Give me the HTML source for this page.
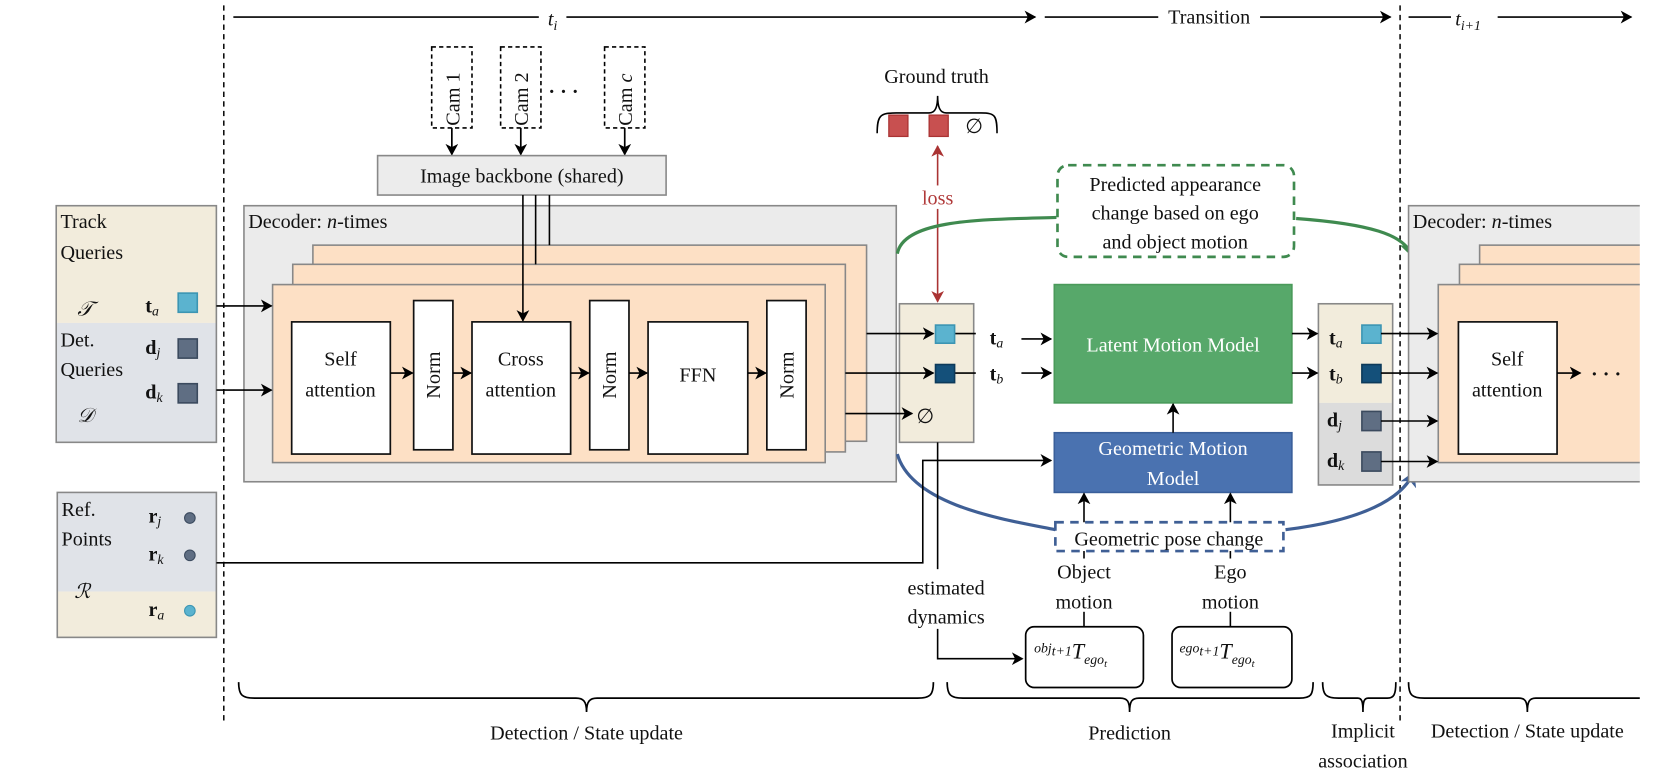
<!DOCTYPE html>
<html><head><meta charset="utf-8"><style>
html,body{margin:0;padding:0;background:#fff;}
svg{display:block;}
text{font-family:"Liberation Serif",serif;font-size:19px;fill:#111;}
.b{font-weight:bold;}
</style></head><body>
<svg width="1661" height="777" viewBox="0 0 1566 729" preserveAspectRatio="none" xmlns="http://www.w3.org/2000/svg">
<defs>
<marker id="a" markerWidth="12" markerHeight="12" refX="10" refY="6" orient="auto" markerUnits="userSpaceOnUse"><path d="M0,0 L11,6 L0,12 L3,6 Z" fill="#000"/></marker>
<marker id="ar" markerWidth="12" markerHeight="12" refX="10" refY="6" orient="auto-start-reverse" markerUnits="userSpaceOnUse"><path d="M0,0 L11,6 L0,12 L3,6 Z" fill="#a33"/></marker>
<marker id="ag" markerWidth="16" markerHeight="16" refX="13" refY="8" orient="auto" markerUnits="userSpaceOnUse"><path d="M0,0 L14,8 L0,16 L4,8 Z" fill="#3f8a4f"/></marker>
<marker id="ab" markerWidth="16" markerHeight="16" refX="13" refY="8" orient="auto" markerUnits="userSpaceOnUse"><path d="M0,0 L14,8 L0,16 L4,8 Z" fill="#3f5f95"/></marker>
</defs>

<!-- timeline -->
<g stroke="#000" stroke-width="1.6" fill="none">
<line x1="220" y1="16" x2="976" y2="16" marker-end="url(#a)"/>
<line x1="985" y1="16" x2="1311" y2="16" marker-end="url(#a)"/>
<line x1="1328" y1="16" x2="1538" y2="16" marker-end="url(#a)"/>
</g>
<rect x="508" y="4" width="26" height="22" fill="#fff"/><text x="521" y="24" text-anchor="middle" font-style="italic">t<tspan font-size="13" dy="4">i</tspan></text>
<rect x="1092" y="4" width="96" height="22" fill="#fff"/><text x="1140" y="22" text-anchor="middle">Transition</text>
<rect x="1368" y="4" width="44" height="24" fill="#fff"/><text x="1372" y="24" font-style="italic">t<tspan font-size="13" dy="4">i+1</tspan></text>

<line x1="211" y1="5" x2="211" y2="680" stroke="#000" stroke-width="1.4" stroke-dasharray="5,4"/>
<line x1="1320" y1="5" x2="1320" y2="680" stroke="#000" stroke-width="1.4" stroke-dasharray="5,4"/>

<!-- cams -->
<g fill="#fff" stroke="#000" stroke-width="1.5" stroke-dasharray="4,3">
<rect x="407" y="44" width="38" height="76"/>
<rect x="472" y="44" width="38" height="76"/>
<rect x="570" y="44" width="38" height="76"/>
</g>
<text transform="translate(433,118) rotate(-90)">Cam  1</text>
<text transform="translate(498,118) rotate(-90)">Cam 2</text>
<text transform="translate(596,118) rotate(-90)">Cam  <tspan font-style="italic">c</tspan></text>
<text x="517" y="92" font-size="26" font-weight="bold">· · ·</text>
<g stroke="#000" stroke-width="1.6">
<line x1="426" y1="120" x2="426" y2="145" marker-end="url(#a)"/>
<line x1="491" y1="120" x2="491" y2="145" marker-end="url(#a)"/>
<line x1="589" y1="120" x2="589" y2="145" marker-end="url(#a)"/>
</g>
<rect x="356" y="146" width="272" height="37" fill="#ececec" stroke="#888" stroke-width="1.5"/>
<text x="492" y="171" text-anchor="middle">Image backbone (shared)</text>

<!-- left queries panel -->
<rect x="53" y="193" width="151" height="110" fill="#f2ecdc"/>
<rect x="53" y="303" width="151" height="112" fill="#e0e3e8"/>
<rect x="53" y="193" width="151" height="222" fill="none" stroke="#888" stroke-width="1.5"/>
<text x="57" y="214">Track</text><text x="57" y="243">Queries</text>
<text x="73" y="296" font-style="italic" font-size="22">𝒯</text>
<text x="137" y="293" class="b">t<tspan font-style="italic" font-weight="normal" font-size="13" dy="3">a</tspan></text>
<rect x="168" y="275" width="18" height="18" fill="#5bb3cf" stroke="#3c95b3" stroke-width="1.5"/>
<text x="57" y="325">Det.</text><text x="57" y="353">Queries</text>
<text x="73" y="396" font-style="italic" font-size="22">𝒟</text>
<text x="137" y="332" class="b">d<tspan font-style="italic" font-weight="normal" font-size="13" dy="3">j</tspan></text>
<rect x="168" y="318" width="18" height="18" fill="#5f6e83" stroke="#3b4a5e" stroke-width="1.5"/>
<text x="137" y="374" class="b">d<tspan font-style="italic" font-weight="normal" font-size="13" dy="3">k</tspan></text>
<rect x="168" y="360" width="18" height="18" fill="#5f6e83" stroke="#3b4a5e" stroke-width="1.5"/>

<!-- ref points -->
<rect x="54" y="462" width="150" height="93" fill="#e0e3e8"/>
<rect x="54" y="555" width="150" height="43" fill="#f2ecdc"/>
<rect x="54" y="462" width="150" height="136" fill="none" stroke="#888" stroke-width="1.5"/>
<text x="58" y="484">Ref.</text><text x="58" y="512">Points</text>
<text x="70" y="561" font-style="italic" font-size="22">ℛ</text>
<text x="140" y="490" class="b">r<tspan font-style="italic" font-weight="normal" font-size="13" dy="3">j</tspan></text>
<circle cx="179" cy="486" r="5" fill="#5f6e83" stroke="#3b4a5e"/>
<text x="140" y="526" class="b">r<tspan font-style="italic" font-weight="normal" font-size="13" dy="3">k</tspan></text>
<circle cx="179" cy="521" r="5" fill="#5f6e83" stroke="#3b4a5e"/>
<text x="140" y="578" class="b">r<tspan font-style="italic" font-weight="normal" font-size="13" dy="3">a</tspan></text>
<circle cx="179" cy="573" r="5" fill="#5bb3cf" stroke="#3c95b3"/>

<!-- decoder -->
<rect x="230" y="193" width="615" height="259" fill="#ebebeb" stroke="#888" stroke-width="1.5"/>
<text x="234" y="214">Decoder: <tspan font-style="italic">n</tspan>-times</text>
<rect x="295" y="230" width="522" height="184" fill="#fde0c5" stroke="#888" stroke-width="1.5"/>
<rect x="276" y="248" width="521" height="176" fill="#fde0c5" stroke="#888" stroke-width="1.5"/>
<rect x="257" y="267" width="521" height="167" fill="#fde0c5" stroke="#888" stroke-width="1.5"/>
<g stroke="#000" stroke-width="1.5">
<line x1="518" y1="183" x2="518" y2="230"/>
<line x1="505" y1="183" x2="505" y2="248"/>
<line x1="493" y1="183" x2="493" y2="301" marker-end="url(#a)"/>
<line x1="204" y1="287" x2="256" y2="287" marker-end="url(#a)"/>
<line x1="204" y1="366" x2="256" y2="366" marker-end="url(#a)"/>
</g>
<g fill="#fff" stroke="#111" stroke-width="1.6">
<rect x="275" y="302" width="93" height="124"/>
<rect x="390" y="282" width="37" height="140"/>
<rect x="445" y="302" width="93" height="124"/>
<rect x="556" y="282" width="37" height="140"/>
<rect x="611" y="302" width="94" height="124"/>
<rect x="723" y="282" width="37" height="140"/>
</g>
<text x="321" y="343" text-anchor="middle">Self</text><text x="321" y="372" text-anchor="middle">attention</text>
<text x="491" y="343" text-anchor="middle">Cross</text><text x="491" y="372" text-anchor="middle">attention</text>
<text x="658" y="358" text-anchor="middle">FFN</text>
<text transform="translate(415,352) rotate(-90)" text-anchor="middle">Norm</text>
<text transform="translate(581,352) rotate(-90)" text-anchor="middle">Norm</text>
<text transform="translate(748,352) rotate(-90)" text-anchor="middle">Norm</text>
<g stroke="#000" stroke-width="1.5">
<line x1="368" y1="350" x2="389" y2="350" marker-end="url(#a)"/>
<line x1="427" y1="350" x2="444" y2="350" marker-end="url(#a)"/>
<line x1="538" y1="350" x2="555" y2="350" marker-end="url(#a)"/>
<line x1="593" y1="350" x2="610" y2="350" marker-end="url(#a)"/>
<line x1="705" y1="350" x2="722" y2="350" marker-end="url(#a)"/>
</g>

<!-- ground truth -->
<text x="883" y="78" text-anchor="middle">Ground truth</text>
<path d="M827,125 C827,108 830,106 845,106 L876,106 C882,106 884,100 884,90 C884,100 886,106 892,106 L925,106 C938,106 940,108 940,125" fill="none" stroke="#000" stroke-width="1.5"/>
<rect x="838" y="108" width="18" height="20" fill="#c85050" stroke="#a33" stroke-width="1.2"/>
<rect x="876" y="108" width="18" height="20" fill="#c85050" stroke="#a33" stroke-width="1.2"/>
<text x="910" y="125">∅</text>
<line x1="884" y1="137" x2="884" y2="283" stroke="#a33" stroke-width="1.5" marker-start="url(#ar)" marker-end="url(#ar)"/>
<rect x="864" y="174" width="40" height="22" fill="#fff"/>
<text x="884" y="192" text-anchor="middle" style="fill:#b03a3a">loss</text>

<!-- buffer -->
<rect x="848" y="285" width="70" height="130" fill="#f2ecdc" stroke="#888" stroke-width="1.5"/>
<g stroke="#000" stroke-width="1.5">
<line x1="817" y1="313" x2="880" y2="313" marker-end="url(#a)"/>
<line x1="797" y1="350" x2="880" y2="350" marker-end="url(#a)"/>
<line x1="797" y1="388" x2="860" y2="388" marker-end="url(#a)"/>
<line x1="900" y1="313" x2="920" y2="313"/>
<line x1="900" y1="350" x2="920" y2="350"/>
<line x1="963" y1="318" x2="991" y2="318" marker-end="url(#a)"/>
<line x1="963" y1="350" x2="991" y2="350" marker-end="url(#a)"/>
</g>
<rect x="882" y="305" width="18" height="17" fill="#5bb3cf" stroke="#3c95b3" stroke-width="1.5"/>
<rect x="882" y="342" width="18" height="17" fill="#14507a" stroke="#0d3a5a" stroke-width="1.5"/>
<text x="864" y="397">∅</text>
<text x="933" y="323" class="b">t<tspan font-style="italic" font-weight="normal" font-size="13" dy="3">a</tspan></text>
<text x="933" y="357" class="b">t<tspan font-style="italic" font-weight="normal" font-size="13" dy="3">b</tspan></text>

<!-- green appearance -->
<path d="M846,238 C852,205 930,206 996,204" fill="none" stroke="#3f8a4f" stroke-width="3"/>
<path d="M1222,205 C1290,210 1325,220 1331,240" fill="none" stroke="#3f8a4f" stroke-width="3" marker-end="url(#ag)"/>
<rect x="997" y="155" width="223" height="86" rx="10" fill="#fff" stroke="#3f8a4f" stroke-width="2.5" stroke-dasharray="8,6"/>
<text x="1108" y="179" text-anchor="middle">Predicted appearance</text>
<text x="1108" y="206" text-anchor="middle">change based on ego</text>
<text x="1108" y="233" text-anchor="middle">and object motion</text>

<!-- motion models -->
<rect x="994" y="267" width="224" height="111" fill="#57a86a" stroke="#4a9a5a" stroke-width="1.5"/>
<text x="1106" y="330" text-anchor="middle" style="fill:#fff">Latent Motion Model</text>
<rect x="994" y="406" width="224" height="56" fill="#4a72b0" stroke="#3a5f9a" stroke-width="1.5"/>
<text x="1106" y="427" text-anchor="middle" style="fill:#fff">Geometric Motion</text>
<text x="1106" y="455" text-anchor="middle" style="fill:#fff">Model</text>
<line x1="1106" y1="406" x2="1106" y2="379" stroke="#000" stroke-width="1.5" marker-end="url(#a)"/>

<!-- blue pose curve -->
<path d="M846,426 C860,475 950,488 995,497" fill="none" stroke="#3f5f95" stroke-width="3"/>
<path d="M1212,497 C1285,488 1322,468 1333,443" fill="none" stroke="#3f5f95" stroke-width="3" marker-end="url(#ab)"/>
<rect x="995" y="490" width="215" height="27" fill="#fff" stroke="#3f5f95" stroke-width="2.5" stroke-dasharray="8,6"/>
<text x="1102" y="512" text-anchor="middle">Geometric pose change</text>
<g stroke="#000" stroke-width="1.5">
<line x1="1022" y1="490" x2="1022" y2="463" marker-end="url(#a)"/>
<line x1="1160" y1="490" x2="1160" y2="463" marker-end="url(#a)"/>
<line x1="1022" y1="517" x2="1022" y2="524"/>
<line x1="1160" y1="517" x2="1160" y2="524"/>
<line x1="1022" y1="574" x2="1022" y2="588"/>
<line x1="1160" y1="574" x2="1160" y2="588"/>
</g>
<text x="1022" y="543" text-anchor="middle">Object</text><text x="1022" y="571" text-anchor="middle">motion</text>
<text x="1160" y="543" text-anchor="middle">Ego</text><text x="1160" y="571" text-anchor="middle">motion</text>
<rect x="967" y="588" width="111" height="57" rx="8" fill="#fff" stroke="#000" stroke-width="1.6"/>
<rect x="1105" y="588" width="113" height="57" rx="8" fill="#fff" stroke="#000" stroke-width="1.6"/>
<text x="975" y="618" font-style="italic"><tspan font-size="13" dy="-6">obj</tspan><tspan font-size="13" dy="3">t+1</tspan><tspan font-size="21" dy="3">T</tspan><tspan font-size="13" dy="5">ego</tspan><tspan font-size="10" dy="3">t</tspan></text>
<text x="1112" y="618" font-style="italic"><tspan font-size="13" dy="-6">ego</tspan><tspan font-size="13" dy="3">t+1</tspan><tspan font-size="21" dy="3">T</tspan><tspan font-size="13" dy="5">ego</tspan><tspan font-size="10" dy="3">t</tspan></text>

<!-- connectors -->
<g stroke="#000" stroke-width="1.5" fill="none">
<polyline points="884,415 884,534"/>
<polyline points="884,590 884,618 964,618" marker-end="url(#a)"/>
<polyline points="204,528 870,528 870,432 991,432" marker-end="url(#a)"/>
</g>
<text x="892" y="558" text-anchor="middle">estimated</text>
<text x="892" y="585" text-anchor="middle">dynamics</text>

<!-- right buffer -->
<rect x="1243" y="285" width="70" height="93" fill="#f2ecdc"/>
<rect x="1243" y="378" width="70" height="77" fill="#dcdcdc"/>
<rect x="1243" y="285" width="70" height="170" fill="none" stroke="#888" stroke-width="1.5"/>
<text x="1253" y="323" class="b">t<tspan font-style="italic" font-weight="normal" font-size="13" dy="3">a</tspan></text>
<rect x="1284" y="305" width="18" height="17" fill="#5bb3cf" stroke="#3c95b3" stroke-width="1.5"/>
<text x="1253" y="357" class="b">t<tspan font-style="italic" font-weight="normal" font-size="13" dy="3">b</tspan></text>
<rect x="1284" y="342" width="18" height="17" fill="#14507a" stroke="#0d3a5a" stroke-width="1.5"/>
<text x="1251" y="400" class="b">d<tspan font-style="italic" font-weight="normal" font-size="13" dy="3">j</tspan></text>
<rect x="1284" y="386" width="18" height="18" fill="#5f6e83" stroke="#3b4a5e" stroke-width="1.5"/>
<text x="1251" y="438" class="b">d<tspan font-style="italic" font-weight="normal" font-size="13" dy="3">k</tspan></text>
<rect x="1284" y="424" width="18" height="18" fill="#5f6e83" stroke="#3b4a5e" stroke-width="1.5"/>

<!-- right decoder -->
<rect x="1328" y="193" width="240" height="259" fill="#ebebeb" stroke="#888" stroke-width="1.5"/>
<text x="1332" y="214">Decoder: <tspan font-style="italic">n</tspan>-times</text>
<rect x="1395" y="230" width="200" height="184" fill="#fde0c5" stroke="#888" stroke-width="1.5"/>
<rect x="1376" y="248" width="200" height="176" fill="#fde0c5" stroke="#888" stroke-width="1.5"/>
<rect x="1356" y="267" width="200" height="167" fill="#fde0c5" stroke="#888" stroke-width="1.5"/>
<rect x="1375" y="302" width="93" height="124" fill="#fff" stroke="#111" stroke-width="1.6"/>
<text x="1421" y="343" text-anchor="middle">Self</text><text x="1421" y="372" text-anchor="middle">attention</text>
<text x="1500" y="357" font-size="24" font-weight="bold">· · ·</text>
<g stroke="#000" stroke-width="1.5">
<line x1="1218" y1="313" x2="1242" y2="313" marker-end="url(#a)"/>
<line x1="1218" y1="350" x2="1242" y2="350" marker-end="url(#a)"/>
<line x1="1302" y1="313" x2="1355" y2="313" marker-end="url(#a)"/>
<line x1="1302" y1="350" x2="1355" y2="350" marker-end="url(#a)"/>
<line x1="1302" y1="395" x2="1355" y2="395" marker-end="url(#a)"/>
<line x1="1302" y1="433" x2="1355" y2="433" marker-end="url(#a)"/>
<line x1="1468" y1="350" x2="1490" y2="350" marker-end="url(#a)"/>
</g>

<!-- bottom braces -->
<g fill="none" stroke="#000" stroke-width="1.6">
<path d="M225,640 C225,652 228,655 240,655 L543,655 C550,655 553,658 553,668 C553,658 556,655 563,655 L865,655 C877,655 880,652 880,640"/>
<path d="M893,640 C893,652 896,655 908,655 L1056,655 C1063,655 1065,658 1065,668 C1065,658 1067,655 1074,655 L1225,655 C1236,655 1238,652 1238,640"/>
<path d="M1247,640 C1247,652 1250,655 1262,655 L1280,655 C1284,655 1285,658 1285,668 C1285,658 1286,655 1290,655 L1308,655 C1314,655 1316,652 1316,640"/>
<path d="M1328,640 C1328,652 1331,655 1343,655 L1432,655 C1438,655 1440,658 1440,668 C1440,658 1442,655 1448,655 L1570,655"/>
</g>
<text x="553" y="694" text-anchor="middle">Detection / State update</text>
<text x="1065" y="694" text-anchor="middle">Prediction</text>
<text x="1285" y="692" text-anchor="middle">Implicit</text>
<text x="1285" y="720" text-anchor="middle">association</text>
<text x="1440" y="692" text-anchor="middle">Detection / State update</text>

<rect x="1546" y="0" width="30" height="729" fill="#fff"/>
</svg>
</body></html>
